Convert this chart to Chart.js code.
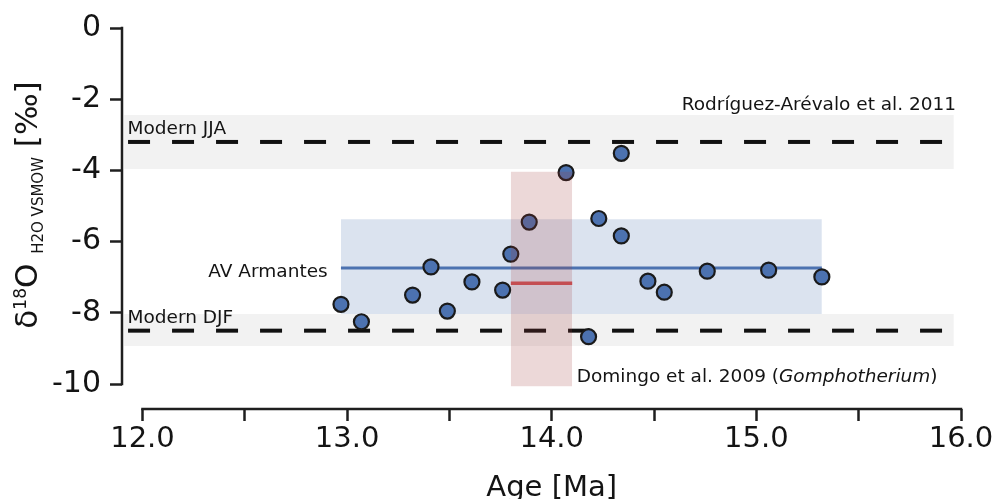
<!DOCTYPE html>
<html>
	<head>
		<title>Isotope vs Age</title>
		<style type="text/css">
			body{ margin: 0; background: #ffffff; }
			#chart-container{ width: 995px; height: 499px; }
		</style>
	</head>
	<body>
		<script type="text/javascript" src="https://cdn.jsdelivr.net/npm/chart.js@4/dist/chart.umd.min.js"></script>

		<div id="chart-container">
			<canvas id="mycanvas" width="995" height="499"></canvas>
		</div>

		<script type="text/javascript">
			// axis ticks
			var ageTicks = [12, 12.5, 13, 13.5, 14, 14.5, 15, 15.5, 16];
			var ageTickLabels = ['12.0', '', '13.0', '', '14.0', '', '15.0', '', '16.0'];
			var d18Ticks = [0, -2, -4, -6, -8, -10];

			// AV Armantes samples
			var sampleAge = [12.97, 13.07, 13.32, 13.41, 13.49, 13.61, 13.76, 13.80, 13.89, 14.07,
				14.18, 14.23, 14.34, 14.34, 14.47, 14.55, 14.76, 15.06, 15.32];
			var sampleD18O = [-7.76, -8.25, -7.50, -6.71, -7.95, -7.13, -7.36, -6.35, -5.45, -4.06,
				-8.67, -5.35, -5.84, -3.52, -7.11, -7.42, -6.83, -6.80, -6.99];

			// AV Armantes mean and range
			var armantesAge = [12.97, 15.32];
			var armantesMean = -6.74;
			var armantesRange = [-5.37, -8.03];

			// Domingo et al. 2009 (Gomphotherium)
			var domingoAge = [13.80, 14.10];
			var domingoMean = -7.17;
			var domingoRange = [-4.04, -10.06];

			// modern precipitation (Rodriguez-Arevalo et al. 2011)
			var modernAge = [11.91, 15.965];
			var jjaMean = -3.2;
			var jjaRange = [-2.44, -3.96];
			var djfMean = -8.5;
			var djfRange = [-8.03, -8.93];

			function hline(xs, y){
				return xs.map(function(x){ return {x: x, y: y}; });
			}

			function edge(xs, y, fill, color){
				return {
					data: hline(xs, y),
					borderWidth: 0,
					pointRadius: 0,
					fill: fill,
					backgroundColor: color
				};
			}

			var BLUE = '#4c72b0';
			var RED = '#c44e52';

			var datasets = [
				{ data: hline(domingoAge, domingoMean), borderColor: RED, borderWidth: 3.5, pointRadius: 0 },
				edge(domingoAge, domingoRange[0], '+1', 'rgba(160,60,60,0.2)'),
				edge(domingoAge, domingoRange[1], false, 'transparent'),
				{
					data: sampleAge.map(function(a, i){ return {x: a, y: sampleD18O[i]}; }),
					showLine: false,
					pointRadius: 7.5,
					pointBackgroundColor: BLUE,
					pointBorderColor: '#1a1a1a',
					pointBorderWidth: 2.2
				},
				{ data: hline(armantesAge, armantesMean), borderColor: BLUE, borderWidth: 3, pointRadius: 0 },
				{ data: hline(modernAge, jjaMean), borderColor: '#111111', borderWidth: 4, borderDash: [22, 22], borderDashOffset: -4, pointRadius: 0 },
				{ data: hline(modernAge, djfMean), borderColor: '#111111', borderWidth: 4, borderDash: [22, 22], borderDashOffset: -4, pointRadius: 0 },
				edge(armantesAge, armantesRange[0], '+1', 'rgba(76,114,176,0.2)'),
				edge(armantesAge, armantesRange[1], false, 'transparent'),
				edge(modernAge, jjaRange[0], '+1', 'rgba(0,0,0,0.05)'),
				edge(modernAge, jjaRange[1], false, 'transparent'),
				edge(modernAge, djfRange[0], '+1', 'rgba(0,0,0,0.05)'),
				edge(modernAge, djfRange[1], false, 'transparent')
			];

			// text labels anchored at data coordinates
			var notes = [
				{ text: 'Modern JJA', x: 11.927, y: -2.98, align: 'left' },
				{ text: 'Modern DJF', x: 11.927, y: -8.29, align: 'left' },
				{ text: 'AV Armantes', x: 12.905, y: -6.99, align: 'right' },
				{ text: 'Rodríguez-Arévalo et al. 2011', x: 15.976, y: -2.30, align: 'right' }
			];

			var INK = '#141414';
			var FONT = '"DejaVu Sans", sans-serif';
			var NOTE_SIZE = '18.5px ';

			var decorPlugin = {
				id: 'decor',
				afterDraw: function(chart){
					var ctx = chart.ctx;
					var xs = chart.scales.x, ys = chart.scales.y;
					ctx.save();

					// trimmed spines
					ctx.strokeStyle = '#1f1f1f';
					ctx.lineWidth = 2.5;
					ctx.lineCap = 'square';
					ctx.beginPath();
					ctx.moveTo(ys.right, ys.getPixelForValue(0));
					ctx.lineTo(ys.right, ys.getPixelForValue(-10));
					ctx.moveTo(xs.getPixelForValue(12), xs.top);
					ctx.lineTo(xs.getPixelForValue(16), xs.top);
					ctx.stroke();

					// annotations
					ctx.fillStyle = INK;
					ctx.textBaseline = 'alphabetic';
					ctx.font = NOTE_SIZE + FONT;
					notes.forEach(function(n){
						ctx.textAlign = n.align;
						ctx.fillText(n.text, xs.getPixelForValue(n.x), ys.getPixelForValue(n.y));
					});

					// Domingo label with italic genus
					ctx.textAlign = 'left';
					var dx = xs.getPixelForValue(14.122), dy = ys.getPixelForValue(-9.94);
					var parts = [['Domingo et al. 2009 (', ''], ['Gomphotherium', 'italic '], [')', '']];
					parts.forEach(function(p){
						ctx.font = p[1] + NOTE_SIZE + FONT;
						ctx.fillText(p[0], dx, dy);
						dx += ctx.measureText(p[0]).width;
					});

					// x title
					ctx.font = '29px ' + FONT;
					ctx.textAlign = 'center';
					ctx.fillText('Age [Ma]', xs.getPixelForValue(14), 496);

					// y title, rotated, with super- and subscript
					var runs = [
						{ t: 'δ', size: 31, dy: 0 },
						{ t: '18', size: 17, dy: -11 },
						{ t: 'O ', size: 31, dy: 0 },
						{ t: 'H2O VSMOW', size: 15, dy: 6 },
						{ t: ' [‰]', size: 31, dy: 0 }
					];
					var total = 0;
					runs.forEach(function(r){
						ctx.font = r.size + 'px ' + FONT;
						r.w = ctx.measureText(r.t).width;
						total += r.w;
					});
					ctx.translate(37, 205);
					ctx.rotate(-Math.PI / 2);
					ctx.textAlign = 'left';
					var px = -total / 2;
					runs.forEach(function(r){
						ctx.font = r.size + 'px ' + FONT;
						ctx.fillText(r.t, px, r.dy);
						px += r.w;
					});
					ctx.restore();
				}
			};

			var ctx = document.getElementById('mycanvas');

			var chart = new Chart(ctx, {
				type: 'line',
				data: { datasets: datasets },
				options: {
					responsive: false,
					animation: false,
					events: [],
					layout: { padding: { left: 0, right: 34, top: 28, bottom: 0 } },
					plugins: {
						legend: { display: false },
						tooltip: { enabled: false }
					},
					scales: {
						x: {
							type: 'linear',
							min: 11.9,
							max: 16,
							afterBuildTicks: function(scale){
								scale.ticks = ageTicks.map(function(v){ return {value: v}; });
							},
							afterFit: function(scale){ scale.height = 90; },
							border: { display: false },
							grid: { drawOnChartArea: false, drawTicks: true, tickLength: 12, tickWidth: 2.5, tickColor: '#1f1f1f' },
							ticks: {
								autoSkip: false,
								maxRotation: 0,
								padding: 1,
								color: INK,
								font: { family: 'DejaVu Sans', size: 29 },
								callback: function(value, index){ return ageTickLabels[index]; }
							}
						},
						y: {
							type: 'linear',
							min: -10.7,
							max: 0,
							afterBuildTicks: function(scale){
								scale.ticks = d18Ticks.map(function(v){ return {value: v}; });
							},
							afterFit: function(scale){ scale.width = 122; },
							border: { display: false },
							grid: { drawOnChartArea: false, drawTicks: true, tickLength: 12, tickWidth: 2.5, tickColor: '#1f1f1f' },
							ticks: {
								padding: 9,
								color: INK,
								font: { family: 'DejaVu Sans', size: 30 }
							}
						}
					}
				},
				plugins: [decorPlugin]
			});
		</script>
	</body>
</html>
